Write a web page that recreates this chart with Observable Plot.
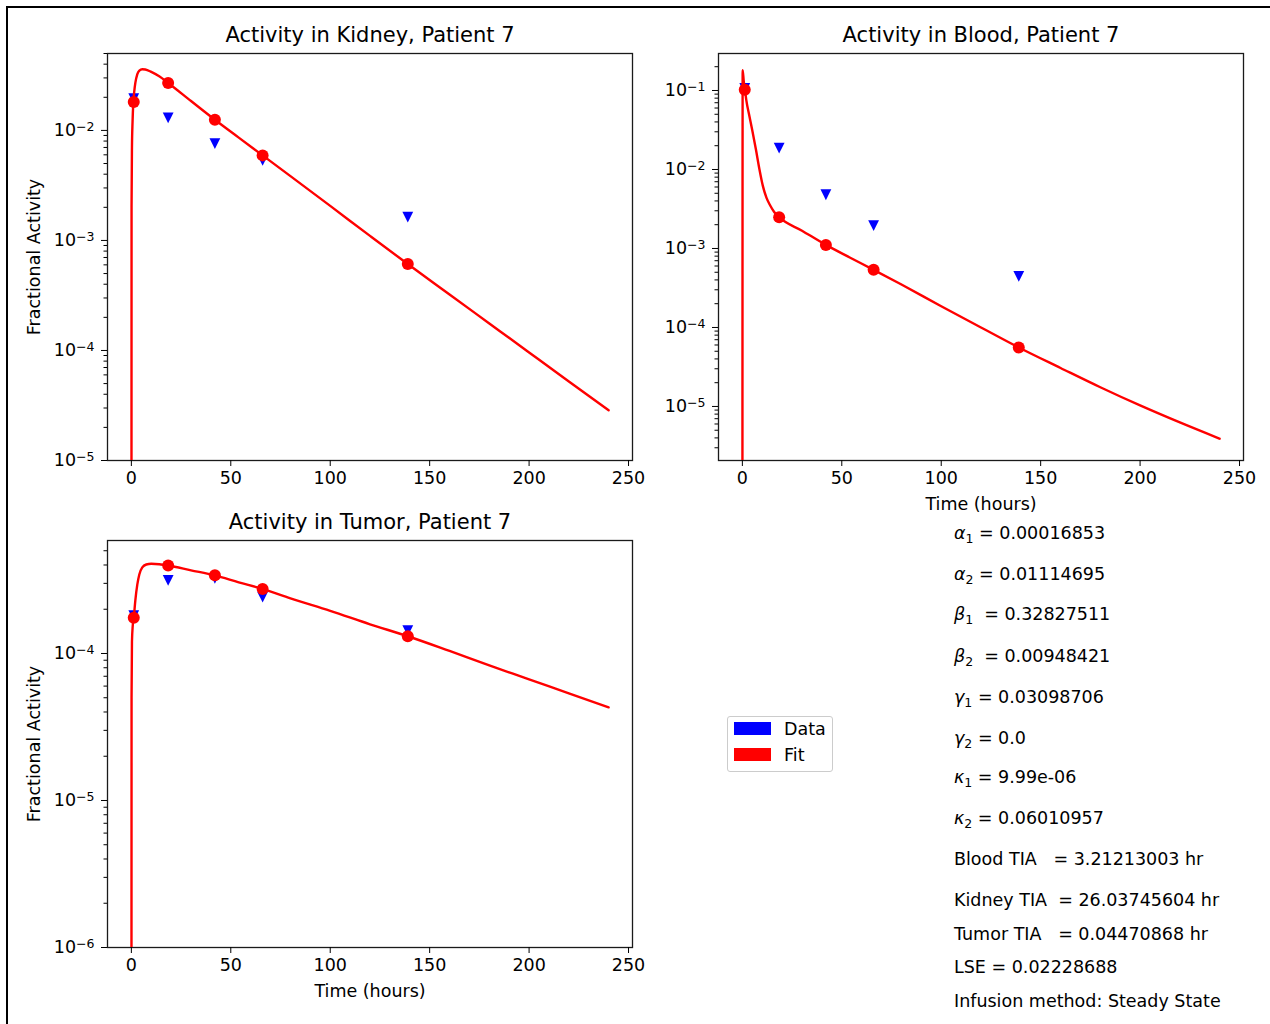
<!DOCTYPE html>
<html>
<head>
<meta charset="utf-8">
<script src="https://cdn.jsdelivr.net/npm/d3@7"></script>
<script src="https://cdn.jsdelivr.net/npm/@observablehq/plot@0.6"></script>
<style>
  body { margin: 0; background: white; }
  #fig { position: relative; width: 1270px; height: 1024px; overflow: hidden; background: white; font-family: "DejaVu Sans", sans-serif; color: #000; }
  .abs { position: absolute; }
  .ptxt { position: absolute; left: 954px; font-size: 17.5px; line-height: 22px; height: 22px; white-space: pre; }
  .ptxt i { font-style: italic; }
  .ptxt sub { font-size: 12.5px; vertical-align: -4px; line-height: 0; }
</style>
</head>
<body>
<div id="fig"></div>
<script>
// ---------- data ----------
const sampleTimes = [1.2, 18.5, 42, 66, 139];

const kidneyData = [0.0194, 0.0130, 0.00757, 0.00534, 0.00163];
const kidneyFit  = [0.0181, 0.0270, 0.0125, 0.00593, 0.000610];
const bloodData  = [0.106, 0.0186, 0.00479, 0.00195, 0.000443];
const bloodFit   = [0.102, 0.00249, 0.00111, 0.000537, 0.0000558];
const tumorData  = [0.000181, 0.000314, 0.000324, 0.000242, 0.000143];
const tumorFit   = [0.000175, 0.000397, 0.000340, 0.000275, 0.000131];

const kidneyCurveT = [0, 0.1, 0.3, 0.6, 1, 1.5, 2, 3, 4, 5.5, 7, 10, 14, 18.5, 30, 42, 54, 66, 80, 100, 120, 139, 160, 180, 200, 220, 240];
const kidneyCurveV = [1e-9, 0.002, 0.007, 0.012, 0.0181, 0.023, 0.027, 0.0325, 0.035, 0.036, 0.0358, 0.034, 0.031, 0.027, 0.0185, 0.0125, 0.0086, 0.00593, 0.00384, 0.00206, 0.0011, 0.00061, 0.000323, 0.000176, 0.0000959, 0.0000523, 0.0000286];

const bloodCurveT = [0, 0.15, 0.7, 1.3, 2, 3.5, 5, 6.8, 8.6, 10.3, 12.1, 14, 16, 18.5, 30, 42, 54, 66, 80, 100, 120, 139, 160, 180, 200, 220, 240];
const bloodCurveV = [1e-9, 0.181, 0.13, 0.102, 0.075, 0.048, 0.0312, 0.018, 0.01, 0.0062, 0.0044, 0.0035, 0.0029, 0.00249, 0.00168, 0.00111, 0.00077, 0.000537, 0.00035, 0.000186, 0.0001, 0.0000558, 0.0000307, 0.0000175, 0.0000103, 0.00000627, 0.00000391];

const tumorCurveT = [0, 0.1, 0.3, 0.7, 1.2, 2, 3, 4, 5.5, 7.5, 10, 14, 18.5, 30, 42, 54, 66, 80, 100, 120, 139, 160, 180, 200, 220, 240];
const tumorCurveV = [1e-9, 0.00005, 0.00012, 0.000155, 0.000175, 0.00023, 0.000295, 0.000345, 0.000385, 0.000403, 0.000408, 0.000405, 0.000397, 0.000368, 0.00034, 0.000305, 0.000275, 0.000237, 0.000195, 0.000158, 0.000131, 0.000104, 0.000083, 0.0000667, 0.0000535, 0.000043];

const xTicks = [0, 50, 100, 150, 200, 250];
const xTickLabels = ["0", "50", "100", "150", "200", "250"];

const kidneyYTicks = [1e-5, 1e-4, 1e-3, 1e-2];
const kidneyYLabels = ["10^−5", "10^−4", "10^−3", "10^−2"];
const bloodYTicks = [1e-5, 1e-4, 1e-3, 1e-2, 1e-1];
const bloodYLabels = ["10^−5", "10^−4", "10^−3", "10^−2", "10^−1"];
const tumorYTicks = [1e-6, 1e-5, 1e-4];
const tumorYLabels = ["10^−6", "10^−5", "10^−4"];

const titles = ["Activity in Kidney, Patient 7", "Activity in Blood, Patient 7", "Activity in Tumor, Patient 7"];
const yAxisLabel = "Fractional Activity";
const xAxisLabel = "Time (hours)";

const legendLabels = ["Data", "Fit"];
const legendColors = ["#0000ff", "#ff0000"];

const paramLines = [
  ["α", "1", " = 0.00016853"],
  ["α", "2", " = 0.01114695"],
  ["β", "1", "  = 0.32827511"],
  ["β", "2", "  = 0.00948421"],
  ["γ", "1", " = 0.03098706"],
  ["γ", "2", " = 0.0"],
  ["κ", "1", " = 9.99e-06"],
  ["κ", "2", " = 0.06010957"],
  ["", "", "Blood TIA   = 3.21213003 hr"],
  ["", "", "Kidney TIA  = 26.03745604 hr"],
  ["", "", "Tumor TIA   = 0.04470868 hr"],
  ["", "", "LSE = 0.02228688"],
  ["", "", "Infusion method: Steady State"]
];
const paramY = [533, 574, 614, 656, 697, 738, 777, 818, 859, 900, 934, 967, 1001];

// ---------- helpers ----------
function minorTicks([lo, hi]) {
  const out = [];
  for (let e = Math.floor(Math.log10(lo)) - 1; e <= Math.ceil(Math.log10(hi)); e++) {
    for (let m = 2; m <= 9; m++) {
      const v = m * Math.pow(10, e);
      if (v >= lo && v <= hi) out.push(v);
    }
  }
  return out;
}

const triDown = {
  draw(ctx, size) {
    const h = Math.sqrt(size / Math.PI);
    ctx.moveTo(-h, -h);
    ctx.lineTo(h, -h);
    ctx.lineTo(0, h);
    ctx.closePath();
  }
};

// turn "10^−2" tick text into 10 with a raised exponent
function superscriptify(svg) {
  svg.querySelectorAll("text").forEach(t => {
    const s = t.textContent;
    if (!s.includes("^")) return;
    const [base, exp] = s.split("^");
    while (t.firstChild) t.removeChild(t.firstChild);
    const ns = "http://www.w3.org/2000/svg";
    const a = document.createElementNS(ns, "tspan");
    a.textContent = base;
    const b = document.createElementNS(ns, "tspan");
    b.textContent = exp;
    b.setAttribute("dy", "-5.5");
    b.setAttribute("font-size", "12.5px");
    t.appendChild(a);
    t.appendChild(b);
  });
  return svg;
}

function panel({title, curveT, curveV, data, fit, yDomain, yTicks, yLabels, showXLabel, showYLabel}) {
  const curve = curveT.map((t, i) => ({t, v: curveV[i]}));
  const pts = sampleTimes.map((t, i) => ({t, d: data[i], f: fit[i]}));
  const marks = [
    Plot.frame({stroke: "#1a1a1a", strokeWidth: 1.3}),
    Plot.axisX({ticks: xTicks, tickSize: 6, tickPadding: 5, label: null,
      tickFormat: d => xTickLabels[xTicks.indexOf(d)]}),
    Plot.axisY({ticks: yTicks, tickSize: 6, tickPadding: 7, label: null,
      tickFormat: d => yLabels[yTicks.indexOf(d)]}),
    Plot.axisY({ticks: minorTicks(yDomain), tickSize: 3.5, label: null, tickFormat: () => ""}),
    Plot.dot(pts, {x: "t", y: "d", symbol: triDown, r: 5.4, fill: "#0000ff", stroke: "none"}),
    Plot.line(curve, {x: "t", y: "v", stroke: "#ff0000", strokeWidth: 2.4, clip: true, curve: "monotone-x"}),
    Plot.dot(pts, {x: "t", y: "f", r: 6, fill: "#ff0000", stroke: "none"}),
    Plot.text([title], {frameAnchor: "top", dy: -18, fontSize: 21, lineAnchor: "middle"})
  ];
  if (showYLabel) marks.push(Plot.text([yAxisLabel], {frameAnchor: "left", dx: -73, rotate: -90, lineAnchor: "middle", textAnchor: "middle"}));
  if (showXLabel) marks.push(Plot.text([xAxisLabel], {frameAnchor: "bottom", dy: 44, lineAnchor: "middle"}));
  return superscriptify(Plot.plot({
    width: 650, height: 525,
    marginLeft: 107, marginRight: 18, marginTop: 53, marginBottom: 65,
    x: {domain: [-12, 252], label: null},
    y: {type: "log", domain: yDomain, label: null},
    style: {fontFamily: "DejaVu Sans", fontSize: "17.5px", background: "transparent", overflow: "visible", maxWidth: "none"},
    marks
  }));
}

const fig = document.getElementById("fig");
function place(node, left, top) {
  const wrap = document.createElement("div");
  wrap.className = "abs";
  wrap.style.left = left + "px";
  wrap.style.top = top + "px";
  wrap.style.width = "650px";
  wrap.appendChild(node);
  fig.appendChild(wrap);
}

// border
const border = document.createElement("div");
border.className = "abs";
Object.assign(border.style, {left: "6px", top: "6px", width: "1300px", height: "1100px", borderTop: "2.5px solid #000", borderLeft: "2.5px solid #000"});
fig.appendChild(border);

place(panel({title: titles[0], curveT: kidneyCurveT, curveV: kidneyCurveV, data: kidneyData, fit: kidneyFit,
  yDomain: [1e-5, 0.05], yTicks: kidneyYTicks, yLabels: kidneyYLabels, showXLabel: false, showYLabel: true}), 0, 0);
place(panel({title: titles[1], curveT: bloodCurveT, curveV: bloodCurveV, data: bloodData, fit: bloodFit,
  yDomain: [2.07e-6, 0.294], yTicks: bloodYTicks, yLabels: bloodYLabels, showXLabel: true, showYLabel: false}), 611, 0);
place(panel({title: titles[2], curveT: tumorCurveT, curveV: tumorCurveV, data: tumorData, fit: tumorFit,
  yDomain: [1e-6, 5.87e-4], yTicks: tumorYTicks, yLabels: tumorYLabels, showXLabel: true, showYLabel: true}), 0, 487);

// legend
const leg = document.createElement("div");
leg.className = "abs";
Object.assign(leg.style, {left: "727px", top: "716px", width: "104px", height: "54px", border: "1px solid #cccccc", borderRadius: "3px", background: "white"});
fig.appendChild(leg);
legendLabels.forEach((lab, i) => {
  const sw = document.createElement("div");
  sw.className = "abs";
  Object.assign(sw.style, {left: "734px", top: (722 + i * 26) + "px", width: "37px", height: "13px", background: legendColors[i]});
  fig.appendChild(sw);
  const tx = document.createElement("div");
  tx.className = "abs";
  Object.assign(tx.style, {left: "784px", top: (729 + i * 26 - 11) + "px", height: "22px", lineHeight: "22px", fontSize: "17.5px"});
  tx.textContent = lab;
  fig.appendChild(tx);
});

// parameter text
paramLines.forEach(([sym, sub, rest], i) => {
  const d = document.createElement("div");
  d.className = "ptxt";
  d.style.top = (paramY[i] - 11) + "px";
  if (sym) {
    const s = document.createElement("i"); s.textContent = sym; d.appendChild(s);
    const b = document.createElement("sub"); b.textContent = sub; d.appendChild(b);
  }
  d.appendChild(document.createTextNode(rest));
  fig.appendChild(d);
});
</script>
</body>
</html>
